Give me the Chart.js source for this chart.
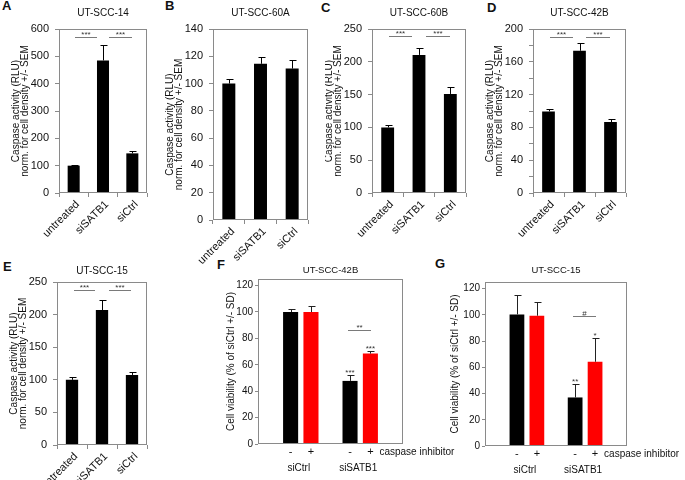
<!DOCTYPE html>
<html><head><meta charset="utf-8">
<script src="https://cdn.jsdelivr.net/npm/chart.js@4/dist/chart.umd.min.js"></script>
<style>
html,body{margin:0;padding:0;background:#fff}
body{width:685px;height:480px;position:relative;overflow:hidden;font-family:"Liberation Sans",Arial,sans-serif}
canvas{position:absolute}
.lt{position:absolute;font-weight:bold;font-size:13px;line-height:13px;color:#111}
</style></head>
<body>
<div class="lt" style="left:2px;top:-1px">A</div>
<div class="lt" style="left:165px;top:-1px">B</div>
<div class="lt" style="left:321px;top:1px">C</div>
<div class="lt" style="left:487px;top:1px">D</div>
<div class="lt" style="left:3px;top:260px">E</div>
<div class="lt" style="left:217px;top:258px">F</div>
<div class="lt" style="left:435px;top:257px">G</div>
<canvas id="cA"></canvas><canvas id="cB"></canvas><canvas id="cC"></canvas><canvas id="cD"></canvas>
<canvas id="cE"></canvas><canvas id="cF"></canvas><canvas id="cG"></canvas>
<script>
// ---------------- data ----------------
const caspaseCategories = ['untreated', 'siSATB1', 'siCtrl'];
const caspaseTitleLines = ['Caspase activity (RLU)', 'norm. for cell density +/- SEM'];

const titleA = 'UT-SCC-14';
const meanA = [100, 485, 145];
const semA  = [1.5, 57, 9];
const ticksA = [0, 100, 200, 300, 400, 500, 600];

const titleB = 'UT-SCC-60A';
const meanB = [100, 114.5, 111];
const semB  = [3.5, 5, 6.5];
const ticksB = [0, 20, 40, 60, 80, 100, 120, 140];

const titleC = 'UT-SCC-60B';
const meanC = [100, 210.5, 151];
const semC  = [3, 11, 10];
const ticksC = [0, 50, 100, 150, 200, 250];

const titleD = 'UT-SCC-42B';
const meanD = [99.5, 173.5, 86.5];
const semD  = [3, 10, 3.5];
const ticksD = [0, 40, 80, 120, 160, 200];
const minorTicksD = [20, 60, 100, 140, 180];

const titleE = 'UT-SCC-15';
const meanE = [100, 207, 107.5];
const semE  = [4, 15, 4];
const ticksE = [0, 50, 100, 150, 200, 250];

const sigStars = '***';
const bracketLevelA = 572, bracketLevelC = 239, bracketLevelD = 190.5, bracketLevelE = 238;

const viabilityGroups = ['siCtrl', 'siSATB1'];
const inhibitorSigns = ['-', '+'];
const inhibitorText = 'caspase inhibitor';
const viabilityTitle = 'Cell viability (% of siCtrl +/- SD)';
const ticksFG = [0, 20, 40, 60, 80, 100, 120];

const titleF = 'UT-SCC-42B';
const fNoInhibitor = [100, 47.8];
const fNoInhibitorSd = [2.3, 4.7];
const fInhibitor = [100, 68.5];
const fInhibitorSd = [4.3, 1.7];
const fStarsNo = ['', '***'];
const fStarsInh = ['', '***'];
const fBracketText = '**', fBracketLevel = 86.7;

const titleG = 'UT-SCC-15';
const gNoInhibitor = [100.3, 37];
const gNoInhibitorSd = [15, 10];
const gInhibitor = [99.3, 64.2];
const gInhibitorSd = [10.8, 18];
const gStarsNo = ['', '**'];
const gStarsInh = ['', '*'];
const gBracketText = '#', gBracketLevel = 99.4;

// ---------------- drawing ----------------
const FONT = "'Liberation Sans', Arial, sans-serif";
Chart.defaults.font.family = FONT;
Chart.defaults.color = '#111';
const FRAME = '#8a8a8a';

const extras = {
  id: 'extras',
  afterDatasetsDraw(chart, args, o) {
    const {ctx, chartArea: a} = chart;
    const x = chart.scales.x, y = chart.scales.y;
    ctx.save();
    chart.data.datasets.forEach((ds, di) => {
      const meta = chart.getDatasetMeta(di);
      meta.data.forEach((bar, i) => {
        const raw = ds.data[i];
        const val = (typeof raw === 'object') ? raw.y : raw;
        const xc = Math.round(bar.x) + 0.5;
        const yt = Math.round(y.getPixelForValue(val + ds.errors[i])) + 0.5;
        ctx.strokeStyle = o.errColor || '#000';
        ctx.lineWidth = 1;
        ctx.beginPath();
        ctx.moveTo(xc, bar.y); ctx.lineTo(xc, yt);
        ctx.moveTo(xc - o.cap, yt); ctx.lineTo(xc + o.cap + 1, yt);
        ctx.stroke();
        if (ds.stars && ds.stars[i]) {
          ctx.fillStyle = '#333';
          ctx.font = '8px ' + FONT;
          ctx.textAlign = 'center'; ctx.textBaseline = 'alphabetic';
          ctx.fillText(ds.stars[i], bar.x, yt - 1);
        }
        if (ds.sign) {
          ctx.fillStyle = '#111';
          ctx.font = '11px ' + FONT;
          ctx.textAlign = 'center'; ctx.textBaseline = 'middle';
          ctx.fillText(ds.sign, bar.x, a.bottom + 8);
          if (o.sideText && di === chart.data.datasets.length - 1 && i === meta.data.length - 1) {
            ctx.font = '10px ' + FONT;
            ctx.textAlign = 'left';
            ctx.fillText(o.sideText, bar.x + 9, a.bottom + 8);
          }
        }
      });
    });
    if (o.groups) {
      ctx.fillStyle = '#111';
      ctx.font = '10px ' + FONT;
      ctx.textAlign = 'center'; ctx.textBaseline = 'middle';
      o.groups.forEach((g, i) => ctx.fillText(g, x.getPixelForValue(i) - 2, a.bottom + 24));
    }
    (o.brackets || []).forEach(b => {
      const x1 = Math.round(x.getPixelForValue(b.from));
      const x2 = Math.round(x.getPixelForValue(b.to));
      const yy = Math.round(y.getPixelForValue(b.level)) + 0.5;
      ctx.strokeStyle = '#7a7a7a'; ctx.lineWidth = 1;
      ctx.beginPath(); ctx.moveTo(x1, yy); ctx.lineTo(x2, yy); ctx.stroke();
      ctx.fillStyle = '#333';
      ctx.font = '8px ' + FONT;
      ctx.textAlign = 'center'; ctx.textBaseline = 'alphabetic';
      ctx.fillText(b.text, (x1 + x2) / 2, yy - 1);
    });
    ctx.strokeStyle = FRAME; ctx.lineWidth = 1;
    ctx.strokeRect(Math.round(a.left) + 0.5, Math.round(a.top) + 0.5,
                   Math.round(a.right) - Math.round(a.left) - 1, Math.round(a.bottom) - Math.round(a.top) - 1);
    ctx.restore();
  }
};

function place(id, rect) {
  const c = document.getElementById(id);
  c.width = rect[2]; c.height = rect[3];
  c.style.left = rect[0] + 'px'; c.style.top = rect[1] + 'px';
  c.style.width = rect[2] + 'px'; c.style.height = rect[3] + 'px';
  return c;
}

function caspaseChart(id, rect, area, titleY, title, mean, sem, ticks, minor, brackets) {
  const c = place(id, rect);
  const W = area[0] - rect[0];
  const padR = rect[0] + rect[2] - area[2];
  const H = rect[1] + rect[3] - area[3];
  const T1 = titleY - rect[1] - 6;
  const T2 = area[1] - rect[1] - T1 - 12;
  const yTitleX = area[0] - 43;
  const P = yTitleX - rect[0] - 4.5;
  const allTicks = ticks.concat(minor || []).sort((p, q) => p - q);
  return new Chart(c, {
    type: 'bar',
    data: {
      labels: caspaseCategories,
      datasets: [{data: mean, errors: sem, backgroundColor: '#000', borderWidth: 0,
                  barPercentage: 0.41, categoryPercentage: 1}]
    },
    options: {
      responsive: false, animation: false, devicePixelRatio: 1,
      layout: {padding: {left: 0, top: 0, right: padR, bottom: 0}},
      plugins: {
        legend: {display: false}, tooltip: {enabled: false},
        title: {display: true, text: title, fullSize: false, color: '#111',
                font: {size: 10, weight: 'normal', lineHeight: 1.2}, padding: {top: T1, bottom: T2}},
        extras: {cap: 3, brackets: brackets}
      },
      scales: {
        x: {
          afterFit: s => { s.height = H; },
          ticks: {font: {size: 11}, color: '#111', maxRotation: 45, minRotation: 45, padding: 1,
                  labelOffset: 4, autoSkip: false},
          grid: {drawOnChartArea: false, drawTicks: true, tickLength: 4, color: FRAME, offset: true},
          border: {display: false}
        },
        y: {
          min: ticks[0], max: ticks[ticks.length - 1],
          afterFit: s => { s.width = W; },
          afterBuildTicks: s => { s.ticks = allTicks.map(v => ({value: v})); },
          ticks: {font: {size: 11}, color: '#111', padding: 6,
                  callback: v => ticks.includes(v) ? String(v) : ''},
          grid: {drawOnChartArea: false, drawTicks: true, tickLength: 4, color: FRAME},
          border: {display: false},
          title: {display: true, text: caspaseTitleLines, color: '#111',
                  font: {size: 10, lineHeight: 0.9}, padding: {top: P, bottom: 0}}
        }
      }
    },
    plugins: [extras]
  });
}

function viabilityChart(id, rect, area, titleY, yTitleX, title, noInh, noInhSd, inh, inhSd, starsNo, starsInh, bracket) {
  const c = place(id, rect);
  const W = area[0] - rect[0];
  const padR = rect[0] + rect[2] - area[2];
  const H = rect[1] + rect[3] - area[3];
  const T1 = titleY - rect[1] - 6;
  const T2 = area[1] - rect[1] - T1 - 12;
  const P = yTitleX - rect[0] - 6;
  return new Chart(c, {
    type: 'bar',
    data: {
      datasets: [
        {data: noInh.map((v, i) => ({x: i, y: v})), errors: noInhSd, stars: starsNo, sign: inhibitorSigns[0],
         backgroundColor: '#000', borderWidth: 0, barPercentage: 0.74, categoryPercentage: 0.685},
        {data: inh.map((v, i) => ({x: i, y: v})), errors: inhSd, stars: starsInh, sign: inhibitorSigns[1],
         backgroundColor: '#ff0000', borderWidth: 0, barPercentage: 0.74, categoryPercentage: 0.685}
      ]
    },
    options: {
      responsive: false, animation: false, devicePixelRatio: 1,
      layout: {padding: {left: 0, top: 0, right: padR, bottom: 0}},
      plugins: {
        legend: {display: false}, tooltip: {enabled: false},
        title: {display: true, text: title, fullSize: false, color: '#111',
                font: {size: 9.5, weight: 'normal', lineHeight: 1.2}, padding: {top: T1 + 0.3, bottom: T2 + 0.3}},
        extras: {cap: 3, errColor: '#222', groups: viabilityGroups, sideText: inhibitorText,
                 brackets: [{text: bracket[0], from: 0.79, to: 1.18, level: bracket[1]}]}
      },
      scales: {
        x: {
          type: 'linear', min: -0.72, max: 1.72, offset: false, bounds: 'data',
          afterBuildTicks: s => { s.ticks = viabilityGroups.map((g, i) => ({value: i})); },
          afterFit: s => { s.height = H; },
          ticks: {display: false},
          grid: {display: false, offset: false},
          border: {display: false}
        },
        y: {
          min: 0, max: 125,
          afterFit: s => { s.width = W; },
          afterBuildTicks: s => { s.ticks = ticksFG.map(v => ({value: v})); },
          ticks: {font: {size: 10}, color: '#111', padding: 2},
          grid: {drawOnChartArea: false, drawTicks: true, tickLength: 3, color: FRAME},
          border: {display: false},
          title: {display: true, text: viabilityTitle, color: '#111',
                  font: {size: 10, lineHeight: 1.2}, padding: {top: P, bottom: 0}}
        }
      }
    },
    plugins: [extras]
  });
}

const pairBrackets = lvl => [
  {text: sigStars, from: 0.05, to: 0.78, level: lvl},
  {text: sigStars, from: 1.22, to: 1.98, level: lvl}
];

caspaseChart('cA', [0, 0, 165, 245], [59, 29, 147, 193], 13.7, titleA, meanA, semA, ticksA, null, pairBrackets(bracketLevelA));
caspaseChart('cB', [165, 0, 160, 268], [213, 29, 308, 220], 13.7, titleB, meanB, semB, ticksB, null, []);
caspaseChart('cC', [325, 0, 160, 245], [372, 29, 466, 193], 13.7, titleC, meanC, semC, ticksC, null, pairBrackets(bracketLevelC));
caspaseChart('cD', [485, 0, 200, 245], [533, 29, 626, 193], 13.7, titleD, meanD, semD, ticksD, minorTicksD, pairBrackets(bracketLevelD));
caspaseChart('cE', [0, 255, 165, 225], [57, 282, 147, 445], 271.7, titleE, meanE, semE, ticksE, null, pairBrackets(bracketLevelE));
viabilityChart('cF', [220, 255, 240, 225], [258, 279, 403, 444], 270.7, 231.7, titleF,
  fNoInhibitor, fNoInhibitorSd, fInhibitor, fInhibitorSd, fStarsNo, fStarsInh, [fBracketText, fBracketLevel]);
viabilityChart('cG', [445, 255, 240, 225], [485, 282, 627, 446], 270.7, 455, titleG,
  gNoInhibitor, gNoInhibitorSd, gInhibitor, gInhibitorSd, gStarsNo, gStarsInh, [gBracketText, gBracketLevel]);
</script>
</body></html>
